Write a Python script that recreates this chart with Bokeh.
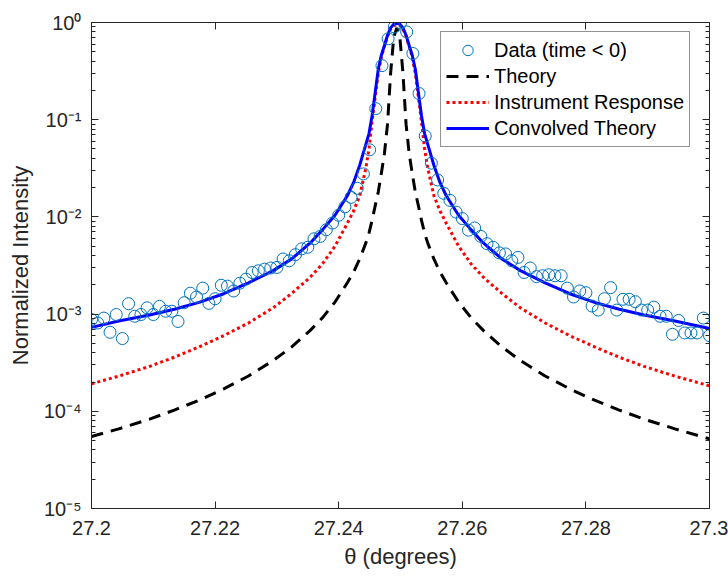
from bokeh.plotting import figure
from bokeh.models import (FixedTicker, LinearAxis, LogAxis, Legend, LegendItem)
from bokeh.embed import file_html
from bokeh.resources import INLINE

# ---------------- data ----------------
data_theta = [
    27.200, 27.201, 27.202, 27.203, 27.204, 27.205, 27.206, 27.207, 27.208, 27.209,
    27.210, 27.211, 27.212, 27.213, 27.214, 27.215, 27.216, 27.217, 27.218, 27.219,
    27.220, 27.221, 27.222, 27.223, 27.224, 27.225, 27.226, 27.227, 27.228, 27.229,
    27.230, 27.231, 27.232, 27.233, 27.234, 27.235, 27.236, 27.237, 27.238, 27.239,
    27.240, 27.241, 27.242, 27.243, 27.244, 27.245, 27.246, 27.247, 27.248, 27.249,
    27.250, 27.251, 27.252, 27.253, 27.254, 27.255, 27.256, 27.257, 27.258, 27.259,
    27.260, 27.261, 27.262, 27.263, 27.264, 27.265, 27.266, 27.267, 27.268, 27.269,
    27.270, 27.271, 27.272, 27.273, 27.274, 27.275, 27.276, 27.277, 27.278, 27.279,
    27.280, 27.281, 27.282, 27.283, 27.284, 27.285, 27.286, 27.287, 27.288, 27.289,
    27.290, 27.291, 27.292, 27.293, 27.294, 27.295, 27.296, 27.297, 27.298, 27.299,
    27.300]
data_intensity = [
    8.8e-4, 8.1e-4, 9.1e-4, 6.5e-4, 9.9e-4, 5.6e-4, 1.28e-3, 9.5e-4, 9.9e-4, 1.16e-3,
    9.9e-4, 1.20e-3, 1.07e-3, 1.07e-3, 8.4e-4, 1.31e-3, 1.64e-3, 1.50e-3, 1.85e-3, 1.29e-3,
    1.44e-3, 1.98e-3, 1.94e-3, 1.73e-3, 2.08e-3, 2.29e-3, 2.68e-3, 2.79e-3, 2.90e-3, 2.98e-3,
    3.02e-3, 3.69e-3, 3.54e-3, 4.09e-3, 4.69e-3, 4.87e-3, 5.95e-3, 6.29e-3, 7.38e-3, 8.65e-3,
    1.04e-2, 1.27e-2, 1.59e-2, 1.97e-2, 2.77e-2, 4.9e-2, 0.130, 0.36, 0.68, 0.90,
    0.99, 0.80, 0.48, 0.186, 0.068, 3.57e-2, 2.40e-2, 1.75e-2, 1.48e-2, 1.12e-2,
    9.6e-3, 7.3e-3, 7.7e-3, 6.3e-3, 5.3e-3, 4.87e-3, 4.26e-3, 4.16e-3, 3.54e-3, 3.83e-3,
    2.68e-3, 2.98e-3, 2.43e-3, 2.48e-3, 2.54e-3, 2.48e-3, 2.48e-3, 1.85e-3, 1.50e-3, 1.73e-3,
    1.66e-3, 1.21e-3, 1.10e-3, 1.44e-3, 1.87e-3, 1.10e-3, 1.42e-3, 1.42e-3, 1.34e-3, 1.10e-3,
    1.10e-3, 1.18e-3, 9.5e-4, 9.5e-4, 6.2e-4, 8.6e-4, 6.4e-4, 6.4e-4, 6.4e-4, 9.1e-4,
    6.0e-4]

curve_theta = [
    27.2000, 27.2044, 27.2094, 27.2134, 27.2174, 27.2214, 27.2254, 27.2294, 27.2324, 27.2354,
    27.2374, 27.2394, 27.2414, 27.2424, 27.2434, 27.2444, 27.2449, 27.2454, 27.2459, 27.2464,
    27.2469, 27.2474, 27.2479, 27.2484, 27.2489, 27.2494, 27.2499, 27.2504, 27.2509, 27.2514,
    27.2519, 27.2524, 27.2529, 27.2534, 27.2539, 27.2544, 27.2554, 27.2564, 27.2574, 27.2594,
    27.2614, 27.2634, 27.2664, 27.2694, 27.2734, 27.2774, 27.2814, 27.2854, 27.2894, 27.2944,
    27.3000]
theory = [
    5.5e-5, 6.6e-5, 8.3e-5, 1.03e-4, 1.30e-4, 1.70e-4, 2.31e-4, 3.33e-4, 4.6e-4, 6.8e-4,
    9.2e-4, 1.33e-3, 2.1e-3, 2.7e-3, 3.7e-3, 5.4e-3, 6.8e-3, 9.2e-3, 1.3e-2, 1.8e-2,
    2.8e-2, 4.5e-2, 9.0e-2, 0.30, 0.70, 0.88, 0.70, 0.30, 9.0e-2, 4.5e-2,
    2.8e-2, 1.8e-2, 1.3e-2, 9.2e-3, 6.8e-3, 5.4e-3, 3.7e-3, 2.7e-3, 2.1e-3, 1.33e-3,
    9.2e-4, 6.8e-4, 4.6e-4, 3.33e-4, 2.31e-4, 1.70e-4, 1.30e-4, 1.03e-4, 8.3e-5, 6.6e-5,
    5.2e-5]
instrument = [
    1.92e-4, 2.3e-4, 2.9e-4, 3.6e-4, 4.6e-4, 6.0e-4, 8.1e-4, 1.16e-3, 1.63e-3, 2.4e-3,
    3.3e-3, 5.0e-3, 8.6e-3, 1.15e-2, 1.65e-2, 3.2e-2, 5.0e-2, 9.5e-2, 0.17, 0.30,
    0.44, 0.57, 0.72, 0.86, 0.93, 0.95, 0.93, 0.86, 0.72, 0.57,
    0.44, 0.30, 0.17, 9.5e-2, 5.0e-2, 3.2e-2, 1.65e-2, 1.15e-2, 8.6e-3, 5.0e-3,
    3.3e-3, 2.4e-3, 1.63e-3, 1.16e-3, 8.1e-4, 6.0e-4, 4.6e-4, 3.6e-4, 2.9e-4, 2.3e-4,
    1.83e-4]
convolved = [
    7.3e-4, 8.5e-4, 9.8e-4, 1.12e-3, 1.32e-3, 1.62e-3, 2.1e-3, 2.8e-3, 3.7e-3, 5.4e-3,
    7.4e-3, 1.04e-2, 1.65e-2, 2.25e-2, 3.4e-2, 5.6e-2, 7.2e-2, 0.11, 0.19, 0.33,
    0.46, 0.58, 0.74, 0.88, 0.96, 0.98, 0.96, 0.88, 0.74, 0.58,
    0.46, 0.33, 0.19, 0.11, 7.2e-2, 5.6e-2, 3.4e-2, 2.25e-2, 1.65e-2, 1.04e-2,
    7.4e-3, 5.4e-3, 3.7e-3, 2.8e-3, 2.1e-3, 1.62e-3, 1.32e-3, 1.12e-3, 9.8e-4, 8.5e-4,
    7.1e-4]

x_ticks = [27.2, 27.22, 27.24, 27.26, 27.28, 27.3]
x_tick_labels = ["27.2", "27.22", "27.24", "27.26", "27.28", "27.3"]
y_ticks = [1e-5, 1e-4, 1e-3, 1e-2, 1e-1, 1.0]
y_tick_labels = ["10\u207b\u2075", "10\u207b\u2074", "10\u207b\u00b3", "10\u207b\u00b2",
                 "10\u207b\u00b9", "10\u2070"]

legend_labels = ["Data (time < 0)", "Theory", "Instrument Response", "Convolved Theory"]

# ---------------- figure ----------------
FONT = "Liberation Sans"
AX = "#262626"

p = figure(width=728, height=578, x_range=(27.2, 27.3), y_range=(1e-5, 1.0),
           y_axis_type="log", output_backend="svg", toolbar_location=None,
           min_border_left=91, min_border_right=19, min_border_top=22,
           min_border_bottom=70)
p.grid.visible = False
p.outline_line_color = AX
p.background_fill_color = "white"
p.border_fill_color = "white"

y_minor = [k * t for t in y_ticks[:-1] for k in range(2, 10)]
xt = FixedTicker(ticks=x_ticks, minor_ticks=[])
yt = FixedTicker(ticks=y_ticks, minor_ticks=y_minor)


def style(ax, ticks, labels):
    ax.axis_line_color = AX
    ax.axis_line_width = 1
    ax.major_tick_line_color = AX
    ax.minor_tick_line_color = AX
    ax.major_tick_in = 7
    ax.major_tick_out = 0
    ax.minor_tick_in = 4
    ax.minor_tick_out = 0
    ax.major_label_text_font = FONT
    ax.major_label_text_color = AX
    ax.major_label_text_font_size = "20px"
    ax.axis_label_text_font = FONT
    ax.axis_label_text_font_size = "22px"
    ax.axis_label_text_font_style = "normal"
    ax.axis_label_text_color = AX
    if labels is None:
        ax.major_label_overrides = {t: "" for t in ticks}
        ax.major_label_standoff = 0
    else:
        ax.major_label_overrides = {t: s for t, s in zip(ticks, labels)}


xa = p.xaxis[0]
xa.ticker = xt
style(xa, x_ticks, x_tick_labels)
xa.major_label_standoff = 12
xa.axis_label = "\u03b8 (degrees)"
xa.axis_label_standoff = 6

ya = p.yaxis[0]
ya.ticker = yt
style(ya, y_ticks, y_tick_labels)
ya.major_label_standoff = 10
ya.axis_label = "Normalized Intensity"
ya.axis_label_standoff = 8

top = LinearAxis(ticker=xt)
style(top, x_ticks, None)
p.add_layout(top, "above")
right = LogAxis(ticker=yt)
style(right, y_ticks, None)
p.add_layout(right, "right")

# ---------------- glyphs ----------------
r_theory = p.line(curve_theta, theory, line_color="black", line_width=3,
                  line_dash="12 8")
r_instr = p.line(curve_theta, instrument, line_color="#FF0000", line_width=3,
                 line_dash="3 3")
r_conv = p.line(curve_theta, convolved, line_color="#0000FF", line_width=3)
r_data = p.scatter(data_theta, data_intensity, marker="circle", size=12,
                   fill_color=None, line_color="#0072BD", line_width=1)

legend = Legend(items=[
    LegendItem(label=legend_labels[0], renderers=[r_data]),
    LegendItem(label=legend_labels[1], renderers=[r_theory]),
    LegendItem(label=legend_labels[2], renderers=[r_instr]),
    LegendItem(label=legend_labels[3], renderers=[r_conv]),
], location=(349, 361))
legend.label_text_font = FONT
legend.label_text_font_size = "20px"
legend.label_text_color = "black"
legend.glyph_width = 43
legend.glyph_height = 26
legend.label_height = 26
legend.label_standoff = 5
legend.spacing = 0
legend.padding = 5
legend.margin = 0
legend.border_line_color = AX
legend.border_line_width = 1
legend.background_fill_color = "white"
legend.background_fill_alpha = 1.0
p.add_layout(legend, "center")

open("out.html", "w").write(file_html(p, INLINE))
